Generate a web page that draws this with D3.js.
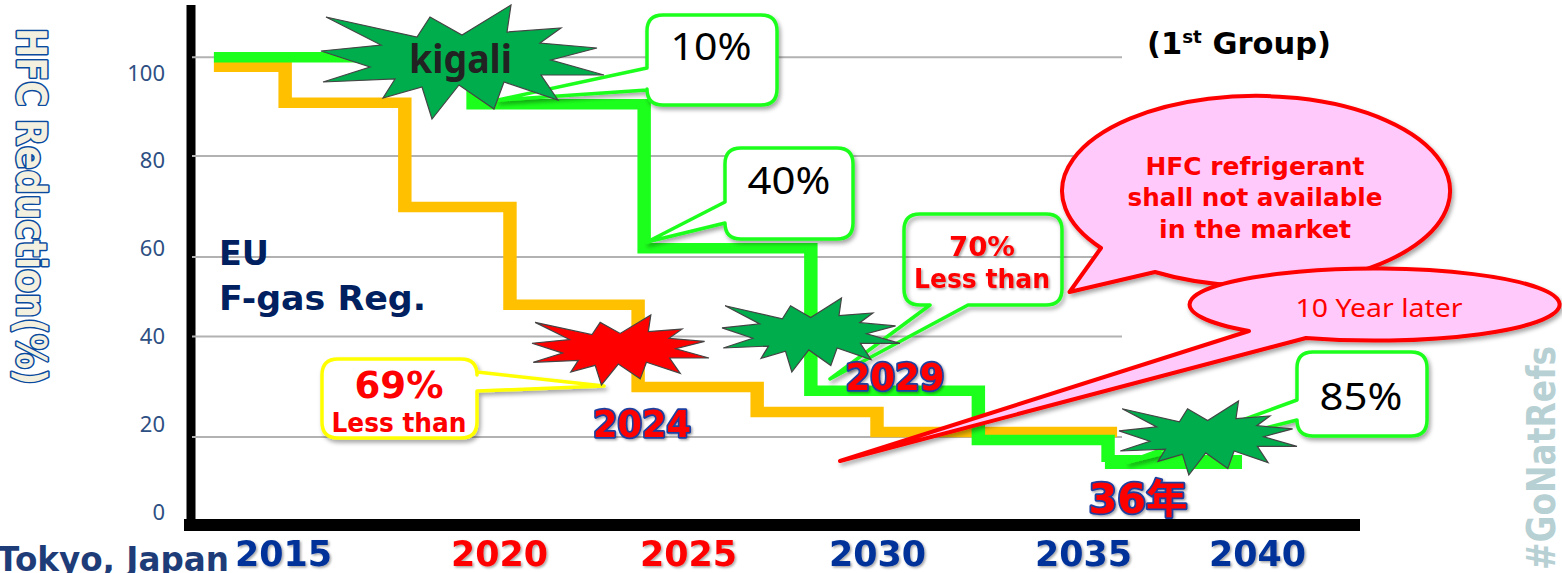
<!DOCTYPE html>
<html><head><meta charset="utf-8">
<script src="https://cdn.jsdelivr.net/npm/d3@7/dist/d3.min.js"></script>
<style>html,body{margin:0;padding:0;background:#fff;overflow:hidden}svg{display:block}</style>
</head><body><svg id="c" width="1562" height="573"></svg>
<script>
// ---- data ----
const yearLabels = [2015, 2020, 2025, 2030, 2035, 2040];
const redYears = [2020, 2025];
const yTicks = [0, 20, 40, 60, 80, 100];
const gridLevels = [103.6, 81.1, 58.1, 40, 17.1];
const euYears = [2013.4, 2015.05, 2017.82, 2020.29, 2023.68, 2026.83, 2030, 2035.98];
const euLevels = [101.4, 93.2, 69.5, 47.2, 28.5, 22.8, 18.2, 18.2];
const kigaliYears = [2013.4, 2019.4, 2023.84, 2028.25, 2032.46, 2035.72];
const kigaliLevels = [103.6, 92.9, 60.1, 27.6, 16.4, 11.4];
const kigaliFinalYears = [2035.63, 2039.57];
const kigaliFinalLevels = [11.4, 11.4];

const svg = d3.select("#c");
const defs = svg.append("defs");
const shadow = defs.append("filter").attr("id","sh").attr("x","-20%").attr("y","-20%").attr("width","140%").attr("height","140%");
shadow.append("feDropShadow").attr("dx",2).attr("dy",3).attr("stdDeviation",2).attr("flood-color","#000").attr("flood-opacity",.35);
const tshadow = defs.append("filter").attr("id","ts");
tshadow.append("feDropShadow").attr("dx",1.5).attr("dy",1.5).attr("stdDeviation",1).attr("flood-color","#000").attr("flood-opacity",.35);

const x = d3.scaleLinear().domain(yearLabels).range([283,499,688,877,1083,1257]);
const y = d3.scaleLinear().domain([0,100]).range([512,73]);

const BOLD = "'DejaVu Sans','Noto Sans CJK JP',sans-serif";
function label(px,py,str,o={}){
  const t = svg.append("text").attr("x",px).attr("y",py).text(str)
    .attr("font-family",o.family||BOLD).attr("font-weight",o.weight||"bold")
    .attr("font-size",o.size||24).attr("fill",o.fill||"#000")
    .attr("text-anchor",o.anchor||"start");
  if(o.len) t.attr("textLength",o.len).attr("lengthAdjust","spacingAndGlyphs");
  if(o.stroke) t.attr("stroke",o.stroke).attr("stroke-width",o.sw||2).attr("paint-order","stroke").attr("stroke-linejoin","round");
  if(o.filter) t.attr("filter","url(#"+o.filter+")");
  if(o.rotate!=null) t.attr("transform",`rotate(${o.rotate} ${px} ${py})`);
  return t;
}

// axes lines
svg.append("line").attr("x1",191).attr("x2",191).attr("y1",5).attr("y2",531).attr("stroke","#000").attr("stroke-width",9);
svg.append("line").attr("x1",184).attr("x2",1360).attr("y1",525).attr("y2",525).attr("stroke","#000").attr("stroke-width",12);

// grid
svg.append("g").selectAll("line").data(gridLevels).join("line")
  .attr("x1",192).attr("x2",1122).attr("y1",d=>y(d)).attr("y2",d=>y(d))
  .attr("stroke","#b2b2b2").attr("stroke-width",2);

// y tick labels
const gy = svg.append("g").attr("transform","translate(165,0)")
  .call(d3.axisLeft(y).tickValues(yTicks).tickSize(0).tickPadding(0));
gy.select(".domain").remove();
gy.selectAll("text").attr("font-family","'Noto Sans',sans-serif").attr("font-size",22).attr("fill","#2e4f83");

// x tick labels
const gx = svg.append("g").attr("transform","translate(0,531)")
  .call(d3.axisBottom(x).tickValues(yearLabels).tickFormat(d3.format("d")).tickSize(0).tickPadding(10));
gx.select(".domain").remove();
gx.selectAll("text").attr("font-family",BOLD).attr("font-weight","bold").attr("font-size",35)
  .attr("textLength",97).attr("lengthAdjust","spacingAndGlyphs")
  .attr("fill",d=>redYears.includes(d)?"#ff0000":"#003399").attr("filter","url(#ts)");

// step lines (thicker verticals than horizontals, as in the stretched source)
const sx = 1.28;
const stepLine = d3.line().x(d=>x(d[0])/sx).y(d=>y(d[1])).curve(d3.curveStepAfter);
const lines = svg.append("g").attr("transform",`scale(${sx},1)`).attr("fill","none").attr("stroke-width",10.5).attr("stroke-linejoin","miter");
lines.append("path").attr("d",stepLine(d3.zip(euYears,euLevels))).attr("stroke","#ffc000");
lines.append("path").attr("d",stepLine(d3.zip(kigaliYears,kigaliLevels))).attr("stroke","#1cff1c");
lines.append("path").attr("d",stepLine(d3.zip(kigaliFinalYears,kigaliFinalLevels))).attr("stroke","#1cff1c").attr("stroke-width",14);

// callouts
function callout(x0,y0,x1,y1,r,tail,stroke,fill){
  const p = d3.path();
  p.moveTo(x0+r,y0); p.lineTo(x1-r,y0); p.quadraticCurveTo(x1,y0,x1,y0+r);
  if(tail.side==="right"){ p.lineTo(x1,tail.a); p.lineTo(tail.tip[0],tail.tip[1]); p.lineTo(x1,tail.b); }
  p.lineTo(x1,y1-r); p.quadraticCurveTo(x1,y1,x1-r,y1);
  if(tail.side==="bottom"){ p.lineTo(tail.b,y1); p.lineTo(tail.tip[0],tail.tip[1]); p.lineTo(tail.a,y1); }
  p.lineTo(x0+r,y1); p.quadraticCurveTo(x0,y1,x0,y1-r);
  if(tail.side==="left"){ p.lineTo(x0,tail.b); p.lineTo(tail.tip[0],tail.tip[1]); p.lineTo(x0,tail.a); }
  p.lineTo(x0,y0+r); p.quadraticCurveTo(x0,y0,x0+r,y0); p.closePath();
  svg.append("path").attr("d",p.toString()).attr("fill",fill||"#fff").attr("stroke",stroke).attr("stroke-width",3.5)
    .attr("stroke-linejoin","round").attr("filter","url(#sh)");
}
const GREEN="#1cff1c";
callout(647,15,777,105,16,{side:"left",a:68,tip:[498,100],b:90},GREEN);
callout(725,148,853,239,16,{side:"left",a:202,tip:[647,242],b:223},GREEN);
callout(904,214,1062,305,16,{side:"bottom",a:930,tip:[830,379],b:968},GREEN,"none");
callout(322,359,477,438,16,{side:"right",a:372,tip:[604,386],b:391},"#ffff00");
callout(1297,352,1427,436,16,{side:"left",a:400,tip:[1128,462],b:420},GREEN);

// stars: one outline, fitted into a box per star
const starX = [326,417,430,462,511,507,561,540,597,551,604,541,558,504,494,459,432,422,383,395,323,370,321,381];
const starY = [17,37,17,35,5,32,28,43,48,60,75,75,100,82,109,85,119,87,98,79,82,67,51,45];
function star(x0,x1,y0,y1,fill){
  const sxs = d3.scaleLinear().domain(d3.extent(starX)).range([x0,x1]);
  const sys = d3.scaleLinear().domain(d3.extent(starY)).range([y0,y1]);
  const l = d3.line().x(d=>sxs(d[0])).y(d=>sys(d[1])).curve(d3.curveLinearClosed);
  svg.append("path").attr("d",l(d3.zip(starX,starY))).attr("fill",fill).attr("stroke","#444").attr("stroke-width",1.2);
}
const STAR="#00ad4d";
star(321,604,5,119,STAR);
star(532,709,315,385,"#ff0000");
star(722,900,298,372,STAR);
star(1119,1297,401,475,STAR);

// pink bubbles
function bubble(cx,cy,rx,ry,a,tip,b){
  const d = `M${a[0]},${a[1]} A${rx},${ry} 0 1 1 ${b[0]},${b[1]} L${tip[0]},${tip[1]} Z`;
  svg.append("path").attr("d",d).attr("fill","#ffc9fb").attr("stroke","#ff0000").attr("stroke-width",4).attr("stroke-linejoin","round").attr("filter","url(#sh)");
}
bubble(1254.5,193,194,95,[1101,248],[1069.5,292],[1155,272]);
bubble(1377,304,185,36,[1249,331],[840,461],[1306,338]);

// text
label(409,72.5,"kigali",{size:40,len:103,fill:"#222",family:"'Noto Sans',sans-serif"});
label(219,265,"EU",{size:34,len:50,fill:"#002060"});
label(219,310,"F-gas Reg.",{size:34,len:207,fill:"#002060"});
const g1 = label(1147,54,"(1",{size:30,fill:"#000"});
g1.append("tspan").text("st").attr("font-size",18).attr("dy",-11);
g1.append("tspan").text(" Group)").attr("dy",11);
g1.attr("textLength",184).attr("lengthAdjust","spacingAndGlyphs");

const thin = "'Noto Sans',sans-serif";
label(711,60,"10%",{size:38,len:81,anchor:"middle",family:thin,weight:"normal"});
label(789,194,"40%",{size:38,len:83,anchor:"middle",family:thin,weight:"normal"});
label(1361,410,"85%",{size:38,len:83,anchor:"middle",family:thin,weight:"normal"});
label(982,256,"70%",{size:26,len:66,anchor:"middle",fill:"#ff0000",filter:"ts"});
label(982,288,"Less than",{size:26,len:136,anchor:"middle",fill:"#ff0000",filter:"ts"});
label(399,398,"69%",{size:37,len:89,anchor:"middle",fill:"#ff0000"});
label(399,432,"Less than",{size:26,len:135,anchor:"middle",fill:"#ff0000"});

label(1255,175,"HFC refrigerant",{size:25,len:219,anchor:"middle",fill:"#ff0000"});
label(1255,206,"shall not available",{size:25,len:255,anchor:"middle",fill:"#ff0000"});
label(1255,238,"in the market",{size:25,len:192,anchor:"middle",fill:"#ff0000"});
label(1379,317,"10 Year later",{size:26,len:167,anchor:"middle",fill:"#ff0000",family:thin,weight:"normal"});

const OUT="#1f3f9f";
label(642,437,"2024",{size:37,len:98,anchor:"middle",fill:"#ff0000",stroke:OUT,sw:3.5,filter:"ts"});
label(895,390,"2029",{size:37,len:99,anchor:"middle",fill:"#ff0000",stroke:OUT,sw:3.5,filter:"ts"});
label(1138,513,"36年",{size:40,len:99,anchor:"middle",fill:"#ff0000",stroke:OUT,sw:3.5,filter:"ts"});

label(-3,571,"Tokyo, Japan",{size:34,len:232,fill:"#1e3c78"});
label(1555,570,"#GoNatRefs",{size:39,len:224,fill:"#b7d0d3",rotate:-90});
label(17,28,"HFC Reduction(%)",{size:40,len:357,fill:"#f4f0e0",stroke:"#0a4a9e",sw:3.2,rotate:90});
</script>
</body></html>
